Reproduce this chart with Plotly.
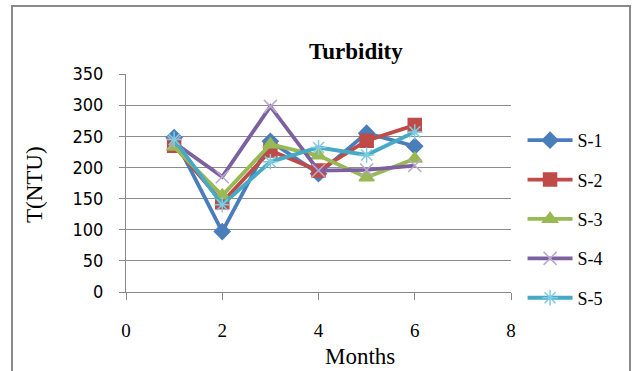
import plotly.graph_objects as go

months = [1, 2, 3, 4, 5, 6]
series_names = ["S-1", "S-2", "S-3", "S-4", "S-5"]
s1 = [248, 97, 242, 190, 255, 234]
s2 = [235, 144, 227, 195, 243, 268]
s3 = [233, 155, 237, 219, 184, 214]
s4 = [240, 185, 298, 195, 196, 203]
s5 = [245, 140, 209, 232, 220, 257]
y_ticks = [0, 50, 100, 150, 200, 250, 300, 350]
x_ticks = [0, 2, 4, 6, 8]

colors = ["#4A7EBB", "#BE4B48", "#98B954", "#7D60A0", "#46AAC5"]
marker_colors = ["#4A7EBB", "#BE4B48", "#98B954", "#B9A8CF", "#7FCBE0"]
symbols = ["diamond", "square", "triangle-up", "x-thin-open", "asterisk-open"]
sizes = [12, 13, 13, 13, 13]

fig = go.Figure()
for i, (name, ys) in enumerate(zip(series_names, [s1, s2, s3, s4, s5])):
    fig.add_trace(go.Scatter(
        x=months, y=ys, name=name, mode="lines+markers",
        legendgroup=name,
        line=dict(color=colors[i], width=3.8),
        marker=dict(symbol=symbols[i], size=sizes[i], color=marker_colors[i],
                    line=dict(color=marker_colors[i], width=1.5)),
    ))

serif = "Liberation Serif"
narrow = "Liberation Sans Narrow, DejaVu Sans Condensed, Liberation Sans"
fig.update_layout(
    width=633, height=371,
    margin=dict(l=126, r=122, t=74, b=79),
    paper_bgcolor="white", plot_bgcolor="white",
    showlegend=True,
    legend=dict(x=1.03, y=0.78, xanchor="left", yanchor="top",
                font=dict(family=serif, size=18, color="black"),
                tracegroupgap=13, itemwidth=45, bgcolor="rgba(0,0,0,0)"),
    xaxis=dict(range=[0, 8], tickvals=x_ticks, showgrid=False, zeroline=False,
               showline=True, linecolor="#888", linewidth=1,
               ticks="outside", ticklen=7, tickcolor="#888",
               ticklabelstandoff=14,
               tickfont=dict(family=serif, size=19, color="black")),
    yaxis=dict(range=[0, 350], tickvals=y_ticks, showgrid=True, gridcolor="#8c8c8c",
               gridwidth=1, zeroline=False, showline=True, linecolor="#888",
               ticks="outside", ticklen=6, tickcolor="#888",
               ticklabelstandoff=12,
               tickfont=dict(family=narrow, size=18, color="black")),
)
pw, ph = 633 - 126 - 122, 371 - 74 - 79
def px(x):
    return (x - 126) / pw
def py(y):
    return (371 - 79 - y) / ph

fig.layout.annotations = [
    dict(text="<b>Turbidity</b>", x=px(356), y=py(52), xref="paper", yref="paper",
         xanchor="center", yanchor="middle",
         showarrow=False, font=dict(family=serif, size=23, color="black")),
    dict(text="Months", x=px(360), y=py(356), xref="paper", yref="paper",
         xanchor="center", yanchor="middle",
         showarrow=False, font=dict(family=serif, size=23, color="black")),
    dict(text="T(NTU)", x=px(34), y=py(185), xref="paper", yref="paper",
         xanchor="center", yanchor="middle",
         showarrow=False, textangle=-90, font=dict(family=serif, size=23, color="black")),
]
fig.add_shape(type="rect", xref="paper", yref="paper",
              x0=px(12), x1=px(630), y0=py(400), y1=py(6),
              line=dict(color="#8a8a8a", width=2), fillcolor="rgba(0,0,0,0)", layer="below")

fig.write_html("out.html")
